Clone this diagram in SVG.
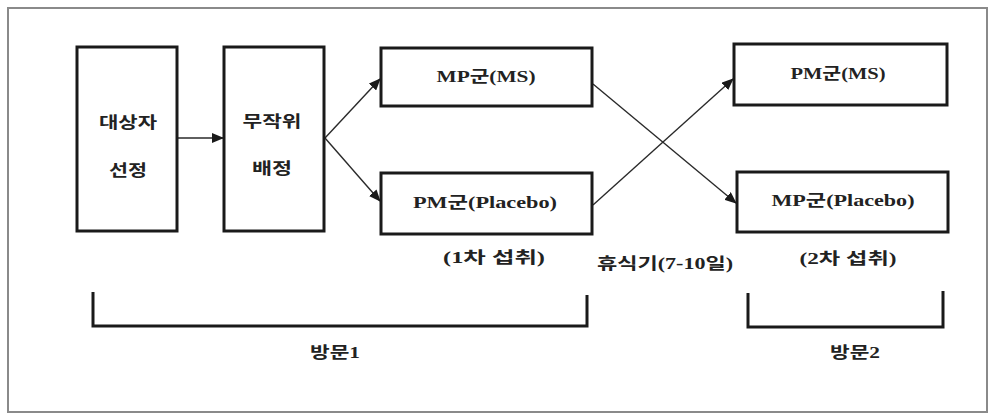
<svg xmlns="http://www.w3.org/2000/svg" width="994" height="415" viewBox="0 0 994 415">
  <style>
    .frame { fill: #ffffff; stroke: #8a8a8a; stroke-width: 2; }
    .box { fill: #ffffff; stroke: #1a1a1a; stroke-width: 3; }
    .link { fill: none; stroke: #2a2a2a; stroke-width: 1.4; }
    .bracket { fill: none; stroke: #1a1a1a; stroke-width: 3; }
    .label { font-family: "Liberation Serif", "Noto Sans CJK KR", serif; font-weight: bold; font-size: 16px; fill: #222222; text-anchor: middle; }
  </style>
  <defs>
    <marker id="arrow" markerUnits="userSpaceOnUse" markerWidth="12" markerHeight="10" refX="11" refY="5" orient="auto">
      <path d="M0,0 L12,5 L0,10 Z" fill="#1a1a1a"/>
    </marker>
  </defs>

  <rect class="frame" x="8" y="8" width="979" height="404"/>

  <g id="connectors">
    <line class="link" x1="177" y1="138" x2="223" y2="138" marker-end="url(#arrow)"/>
    <line class="link" x1="325" y1="138" x2="380" y2="79" marker-end="url(#arrow)"/>
    <line class="link" x1="325" y1="138" x2="380" y2="201" marker-end="url(#arrow)"/>
    <line class="link" x1="593" y1="84" x2="736" y2="203" marker-end="url(#arrow)"/>
    <line class="link" x1="593" y1="205" x2="733" y2="79" marker-end="url(#arrow)"/>
  </g>

  <g id="node-select">
    <rect class="box" x="77" y="47" width="100" height="184"/>
    <text class="label" x="128" y="128" textLength="58" lengthAdjust="spacingAndGlyphs">대상자</text>
    <text class="label" x="128" y="176" textLength="38" lengthAdjust="spacingAndGlyphs">선정</text>
  </g>

  <g id="node-random">
    <rect class="box" x="224" y="47" width="100" height="184"/>
    <text class="label" x="272" y="127" textLength="59" lengthAdjust="spacingAndGlyphs">무작위</text>
    <text class="label" x="272" y="174" textLength="40" lengthAdjust="spacingAndGlyphs">배정</text>
  </g>

  <g id="node-mp-ms">
    <rect class="box" x="381" y="48" width="211" height="58"/>
    <text class="label" x="486" y="82" textLength="99" lengthAdjust="spacingAndGlyphs">MP군(MS)</text>
  </g>

  <g id="node-pm-placebo">
    <rect class="box" x="381" y="173" width="211" height="61"/>
    <text class="label" x="485" y="208" textLength="144" lengthAdjust="spacingAndGlyphs">PM군(Placebo)</text>
  </g>

  <g id="node-pm-ms">
    <rect class="box" x="734" y="44" width="213" height="61"/>
    <text class="label" x="838" y="79" textLength="95" lengthAdjust="spacingAndGlyphs">PM군(MS)</text>
  </g>

  <g id="node-mp-placebo">
    <rect class="box" x="737" y="172" width="211" height="60"/>
    <text class="label" x="843" y="206" textLength="143" lengthAdjust="spacingAndGlyphs">MP군(Placebo)</text>
  </g>

  <g id="intake-labels">
    <text class="label" x="494" y="263" textLength="102" lengthAdjust="spacingAndGlyphs">(1차 섭취)</text>
    <text class="label" x="665" y="269" textLength="136" lengthAdjust="spacingAndGlyphs">휴식기(7-10일)</text>
    <text class="label" x="848" y="264" textLength="97" lengthAdjust="spacingAndGlyphs">(2차 섭취)</text>
  </g>

  <g id="visit-1">
    <path class="bracket" d="M93,292 V326 H587 V295"/>
    <text class="label" x="335" y="358" textLength="50" lengthAdjust="spacingAndGlyphs">방문1</text>
  </g>

  <g id="visit-2">
    <path class="bracket" d="M748,293 V327 H943 V291"/>
    <text class="label" x="855" y="358" textLength="50" lengthAdjust="spacingAndGlyphs">방문2</text>
  </g>
</svg>
